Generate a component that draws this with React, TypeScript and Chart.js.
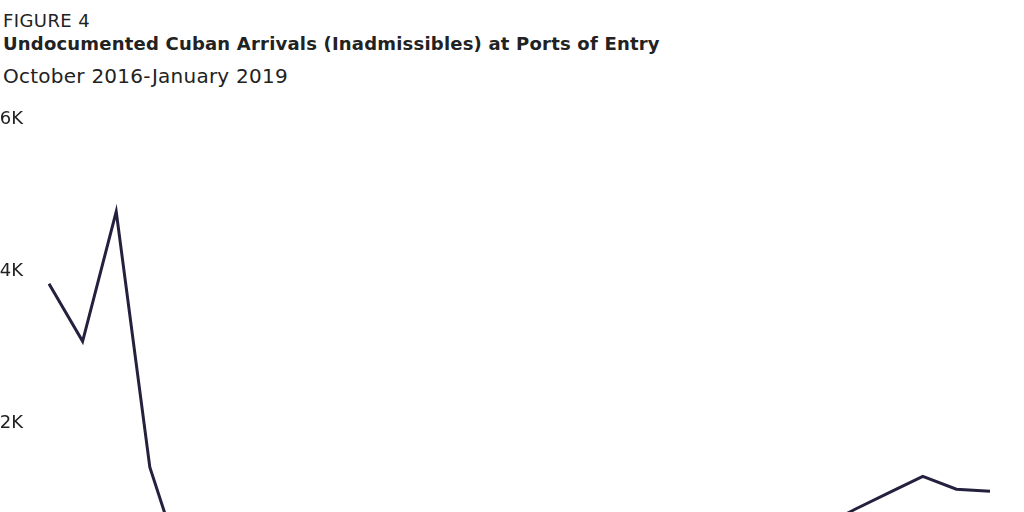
import React, { useEffect, useRef } from 'react';
import { Chart, registerables } from 'chart.js';

Chart.register(...registerables);

// months shown on the x axis
const months = [
    'Oct 2016', 'Nov 2016', 'Dec 2016',
    'Jan 2017', 'Feb 2017', 'Mar 2017', 'Apr 2017', 'May 2017', 'Jun 2017',
    'Jul 2017', 'Aug 2017', 'Sep 2017', 'Oct 2017', 'Nov 2017', 'Dec 2017',
    'Jan 2018', 'Feb 2018', 'Mar 2018', 'Apr 2018', 'May 2018', 'Jun 2018',
    'Jul 2018', 'Aug 2018', 'Sep 2018', 'Oct 2018', 'Nov 2018', 'Dec 2018',
    'Jan 2019', 'Feb 2019'
];

// inadmissible Cubans per month (estimated from the figure)
const arrivals = [
    3840, 3080, 4790,
    1420, 60, 40, 50, 70, 80,
    110, 130, 150, 200, 230, 260,
    300, 330, 380, 420, 460, 500,
    540, 590, 640, 870, 1085, 1300,
    1130, 1105
];

const yTicks = [0, 2000, 4000, 6000];
const yTickLabels = ['0', '2K', '4K', '6K'];

const FONT = '"DejaVu Sans", "Liberation Sans", sans-serif';
const INK = '#222222';
const LINE = '#24213f';

export default function App() {
    const canvasRef = useRef(null);

    useEffect(() => {
        document.body.style.margin = '0';

        const chart = new Chart(canvasRef.current, {
            type: 'line',
            data: {
                labels: months,
                datasets: [
                    {
                        label: 'Inadmissibles',
                        data: arrivals,
                        borderColor: LINE,
                        borderWidth: 3,
                        borderJoinStyle: 'miter',
                        pointRadius: 0,
                        fill: false,
                        tension: 0
                    }
                ]
            },
            options: {
                animation: false,
                responsive: true,
                maintainAspectRatio: false,
                layout: {
                    padding: { top: 0, right: 34, bottom: 0, left: 0 }
                },
                plugins: {
                    legend: { display: false },
                    tooltip: { enabled: false }
                },
                scales: {
                    x: {
                        offset: false,
                        grid: { display: false },
                        border: { display: false },
                        ticks: { display: false },
                        afterFit: (scale) => {
                            scale.height = 43;
                        }
                    },
                    y: {
                        min: 0,
                        max: 6000,
                        grid: { display: false, drawTicks: false },
                        border: { display: false },
                        afterBuildTicks: (scale) => {
                            scale.ticks = yTicks.map((v) => ({ value: v }));
                        },
                        ticks: {
                            padding: 26,
                            color: INK,
                            font: { family: FONT, size: 18 },
                            callback: (value) => yTickLabels[yTicks.indexOf(Number(value))]
                        },
                        afterFit: (scale) => {
                            scale.width = 49;
                        }
                    }
                }
            }
        });

        return () => {
            chart.destroy();
        };
    }, []);

    return (
        <div style={{ position: 'relative', width: 1024, height: 620, fontFamily: FONT, color: INK }}>
            <div style={{ position: 'absolute', left: 3, top: 9.5, fontSize: 18, lineHeight: '22px', letterSpacing: 0.4, whiteSpace: 'nowrap' }}>
                FIGURE 4
            </div>
            <div style={{ position: 'absolute', left: 3, top: 33, fontSize: 18, lineHeight: '22px', fontWeight: 700, letterSpacing: 0.2, whiteSpace: 'nowrap' }}>
                Undocumented Cuban Arrivals (Inadmissibles) at Ports of Entry
            </div>
            <div style={{ position: 'absolute', left: 3, top: 63, fontSize: 20, lineHeight: '26px', letterSpacing: 0.25, whiteSpace: 'nowrap' }}>
                October 2016-January 2019
            </div>
            <div style={{ position: 'absolute', left: 0, top: 83, width: 1024, height: 535 }}>
                <canvas ref={canvasRef} />
            </div>
        </div>
    );
}
